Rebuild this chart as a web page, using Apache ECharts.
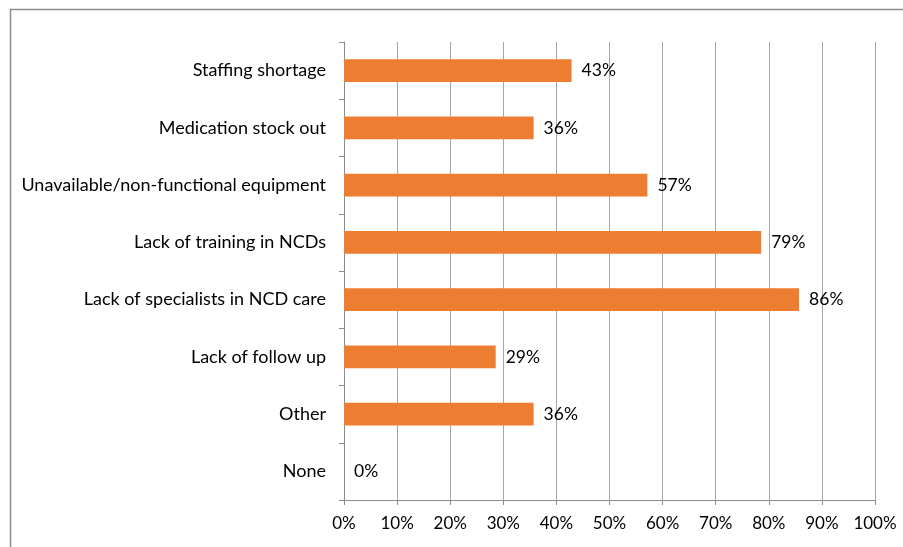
<!DOCTYPE html>
<html><head><meta charset="utf-8">
<script src="https://cdn.jsdelivr.net/npm/echarts@6/dist/echarts.min.js"></script>
<style>html,body{margin:0;padding:0;background:#fff}#c{width:903px;height:547px}</style>
</head><body><div id="c"></div>
<script>
const categories = ["Staffing shortage","Medication stock out","Unavailable/non-functional equipment","Lack of training in NCDs","Lack of specialists in NCD care","Lack of follow up","Other","None"];
const values = [42.86, 35.71, 57.14, 78.57, 85.71, 28.57, 35.71, 0];
const xTicks = [0,10,20,30,40,50,60,70,80,90,100];
const FONT = 'Lato';
const chart = echarts.init(document.getElementById('c'));
chart.setOption({
  animation:false,
  backgroundColor:'#fff',
  textStyle:{fontFamily:FONT},
  graphic:[
    {type:'line',shape:{x1:10,y1:9.5,x2:903,y2:9.5},style:{stroke:'#8c8c8c',lineWidth:1.5}},
    {type:'line',shape:{x1:10.5,y1:9,x2:10.5,y2:547},style:{stroke:'#8c8c8c',lineWidth:1.5}}
  ],
  grid:{left:344,right:28,top:42,bottom:47,containLabel:false},
  xAxis:{type:'value',min:0,max:100,interval:10,
    axisLine:{show:true,lineStyle:{color:'#8c8c8c'}},
    axisTick:{show:true,length:5,lineStyle:{color:'#8c8c8c'}},
    axisLabel:{color:'#000',fontSize:17,fontFamily:FONT,margin:15,formatter:v=>v+'%'},
    splitLine:{show:true,lineStyle:{color:'#a6a6a6',width:1}}
  },
  yAxis:{type:'category',inverse:true,data:categories,
    axisLine:{show:true,lineStyle:{color:'#8c8c8c'}},
    axisTick:{show:true,length:5,lineStyle:{color:'#8c8c8c'}},
    axisLabel:{color:'#000',fontSize:18,fontFamily:FONT,margin:18}
  },
  series:[{type:'bar',data:values,barWidth:'40%',
    itemStyle:{color:'#ed7d31'},
    label:{show:true,position:'right',distance:10,color:'#000',fontSize:17.5,fontFamily:FONT,
      formatter:p=>Math.round(p.value)+'%'}
  }]
});
</script></body></html>
